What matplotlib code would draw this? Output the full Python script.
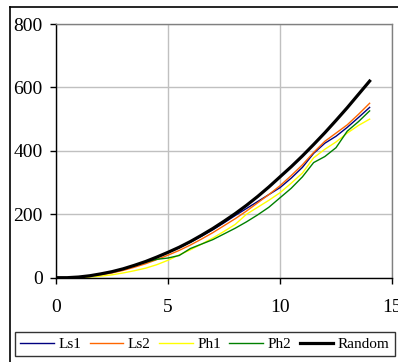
import matplotlib
matplotlib.use("Agg")
import matplotlib.pyplot as plt
from matplotlib.lines import Line2D

#=================
# data
#=================
steps = [0, 0.5, 1, 1.5, 2, 2.5, 3, 3.5, 4, 4.5, 5, 5.5, 6, 6.5, 7,
         7.5, 8, 8.5, 9, 9.5, 10, 10.5, 11, 11.5, 12, 12.5, 13, 13.5, 14]

ls1 = [0, 0, 2, 6, 12, 19, 28, 39, 51, 64, 79, 95, 112, 131, 151,
       173, 196, 218, 240, 262, 284, 314, 348, 392, 424, 446, 474, 505, 537]
ls2 = [0, 0, 1, 4, 9, 15, 23, 33, 44, 57, 71, 86, 103, 122, 142,
       164, 186, 210, 236, 262, 290, 322, 356, 395, 430, 456, 482, 515, 550]
ph1 = [0, 0, 0, 2, 5, 9, 15, 22, 30, 41, 55, 72, 88, 106, 125,
       146, 168, 200, 222, 244, 268, 298, 330, 378, 405, 428, 456, 480, 500]
ph2 = [0, 0, 2, 6, 12, 19, 28, 38, 49, 58, 62, 70, 92, 106, 120,
       138, 156, 176, 198, 222, 252, 282, 318, 363, 382, 410, 462, 492, 526]
random_walk = [0, 0, 2, 6, 12, 19, 28, 39, 51, 65, 80, 96, 114, 134, 155,
               178, 202, 228, 256, 286, 318, 350, 384, 420, 457, 496, 536, 578, 620]

series_names = ["Ls1", "Ls2", "Ph1", "Ph2", "Random"]
series_colors = ["#000080", "#ff6600", "#ffff00", "#008000", "#000000"]

x_ticks = [0, 5, 10, 15]
y_ticks = [0, 200, 400, 600, 800]

#=================
# plot
#=================
plt.rcParams["font.family"] = ["Liberation Serif", "DejaVu Serif"]

fig = plt.figure(figsize=(3.98, 3.62), dpi=100)
ax = fig.add_axes([0.1407, 0.2329, 0.8443, 0.7008])

all_series = [ls1, ls2, ph1, ph2, random_walk]
for values, name, color in zip(all_series, series_names, series_colors):
    lw = 2.3 if name == "Random" else 1.0
    ax.plot(steps, values, color=color, linewidth=lw, label=name)

ax.set_xlim(0, 15)
ax.set_ylim(0, 800)
ax.set_xticks(x_ticks)
ax.set_yticks(y_ticks)
ax.grid(True, color="#c0c0c0", linewidth=1.0)
ax.set_axisbelow(True)

for side in ["left", "bottom"]:
    ax.spines[side].set_color("black")
    ax.spines[side].set_linewidth(1.0)
for side in ["top", "right"]:
    ax.spines[side].set_color("#808080")
    ax.spines[side].set_linewidth(1.0)

ax.tick_params(axis="both", direction="out", length=4.5, width=1.0,
               labelsize=14, colors="black")
ax.tick_params(axis="x", pad=11)
ax.tick_params(axis="y", pad=5)

# legend row below the axes
fig.legend(
    loc="center",
    bbox_to_anchor=(0.515, 0.0497),
    ncol=5,
    fontsize=11,
    frameon=True,
    fancybox=False,
    edgecolor="black",
    handlelength=2.2,
    handletextpad=0.3,
    columnspacing=0.55,
    borderpad=0.35,
    borderaxespad=0,
)
leg = fig.legends[0]
leg.get_frame().set_linewidth(1.0)

# outer chart frame
fig.add_artist(Line2D([10 / 398, 10 / 398], [0, 1 - 7 / 362],
                      transform=fig.transFigure, color="black", linewidth=1.2))
fig.add_artist(Line2D([10 / 398, 1], [1 - 7 / 362, 1 - 7 / 362],
                      transform=fig.transFigure, color="black", linewidth=1.2))

fig.savefig("out.png", dpi=100)
plt.close()
